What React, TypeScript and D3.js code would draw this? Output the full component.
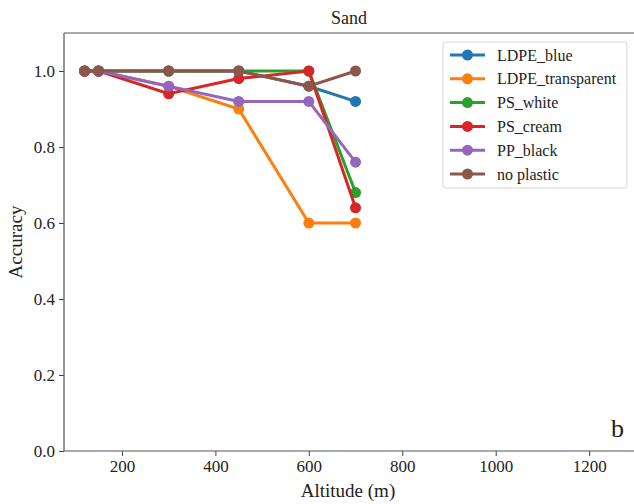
import React, { useEffect, useRef } from "react";
import * as d3 from "d3";

const altitudes = [120, 150, 300, 450, 600, 700];
const seriesNames = ["LDPE_blue", "LDPE_transparent", "PS_white", "PS_cream", "PP_black", "no plastic"];
const ldpeBlue = [1.0, 1.0, 1.0, 1.0, 0.96, 0.92];
const ldpeTransparent = [1.0, 1.0, 0.96, 0.9, 0.6, 0.6];
const psWhite = [1.0, 1.0, 1.0, 1.0, 1.0, 0.68];
const psCream = [1.0, 1.0, 0.94, 0.98, 1.0, 0.64];
const ppBlack = [1.0, 1.0, 0.96, 0.92, 0.92, 0.76];
const noPlastic = [1.0, 1.0, 1.0, 1.0, 0.96, 1.0];
const xTicks = [200, 400, 600, 800, 1000, 1200];
const yTicks = [0, 0.2, 0.4, 0.6, 0.8, 1.0];
const colors = ["#1f77b4", "#ff7f0e", "#2ca02c", "#d62728", "#9467bd", "#8c564b"];

const FONT = "Liberation Serif";

const App = () => {
  const svgRef = useRef<SVGSVGElement>(null);

  useEffect(() => {
    const w = 634;
    const h = 504;
    const left = 64;
    const top = 33;
    const bottom = 451;
    const right = 634;

    const svg = d3
      .select(svgRef.current)
      .attr("width", w)
      .attr("height", h)
      .attr("font-family", FONT);
    svg.selectAll("*").remove();

    const x = d3.scaleLinear().domain([76, 1296]).range([left, right]);
    const y = d3.scaleLinear().domain([0, 1.1]).range([bottom, top]);

    const series = [ldpeBlue, ldpeTransparent, psWhite, psCream, ppBlack, noPlastic];

    // axes
    const xAxis = svg
      .append("g")
      .attr("transform", `translate(0, ${bottom})`)
      .call(d3.axisBottom(x).tickValues(xTicks).tickSize(5).tickPadding(4).tickFormat(d3.format("d")));
    const yAxis = svg
      .append("g")
      .attr("transform", `translate(${left}, 0)`)
      .call(d3.axisLeft(y).tickValues(yTicks).tickSize(5).tickPadding(4).tickFormat(d3.format(".1f")));

    [xAxis, yAxis].forEach((g) => {
      g.attr("font-family", FONT).attr("font-size", 17);
      g.select(".domain").remove();
      g.selectAll("line").attr("stroke", "#444");
      g.selectAll("text").attr("fill", "#222");
    });

    // spines
    svg.append("line").attr("x1", left).attr("x2", left).attr("y1", top).attr("y2", bottom).attr("stroke", "#555").attr("stroke-width", 1.2);
    svg.append("line").attr("x1", left).attr("x2", right).attr("y1", bottom).attr("y2", bottom).attr("stroke", "#555").attr("stroke-width", 1.2);
    svg.append("line").attr("x1", left).attr("x2", right).attr("y1", top).attr("y2", top).attr("stroke", "#555").attr("stroke-width", 1.2);

    // lines
    const line = d3
      .line<number>()
      .x((d, i) => x(altitudes[i]))
      .y((d) => y(d));

    series.forEach((vals, si) => {
      const g = svg.append("g");
      g.append("path")
        .attr("d", line(vals))
        .attr("fill", "none")
        .attr("stroke", colors[si])
        .attr("stroke-width", 3);
      g.selectAll("circle")
        .data(vals)
        .join("circle")
        .attr("cx", (d, i) => x(altitudes[i]))
        .attr("cy", (d) => y(d))
        .attr("r", 5.5)
        .attr("fill", colors[si]);
    });

    const txt = (sel: any, size: number) =>
      sel.attr("font-family", FONT).attr("font-size", size).attr("fill", "#222");

    // title, labels
    txt(svg.append("text").attr("x", (left + right) / 2).attr("y", 24).attr("text-anchor", "middle"), 18).text("Sand");
    txt(svg.append("text").attr("x", (left + right) / 2 - 1).attr("y", 497).attr("text-anchor", "middle"), 19).text("Altitude (m)");
    txt(svg.append("text").attr("transform", `translate(22, ${(top + bottom) / 2}) rotate(-90)`).attr("text-anchor", "middle"), 19).text("Accuracy");
    txt(svg.append("text").attr("x", 624).attr("y", 437).attr("text-anchor", "end"), 26).text("b");

    // legend
    const lg = svg.append("g");
    lg.append("rect").attr("x", 443).attr("y", 42).attr("width", 184).attr("height", 146).attr("rx", 3)
      .attr("fill", "white").attr("fill-opacity", 0.8).attr("stroke", "#d6d6d6").attr("stroke-width", 1);
    seriesNames.forEach((name, i) => {
      const cy = 55 + i * 23.8;
      lg.append("line").attr("x1", 450).attr("x2", 485).attr("y1", cy).attr("y2", cy)
        .attr("stroke", colors[i]).attr("stroke-width", 3);
      lg.append("circle").attr("cx", 467.5).attr("cy", cy).attr("r", 5.5).attr("fill", colors[i]);
      txt(lg.append("text").attr("x", 497).attr("y", cy + 5.5), 16).text(name);
    });
  }, []);

  return (
    <div style={{ position: "absolute", left: 0, top: 0 }}>
      <svg ref={svgRef}></svg>
    </div>
  );
};

export default App;
